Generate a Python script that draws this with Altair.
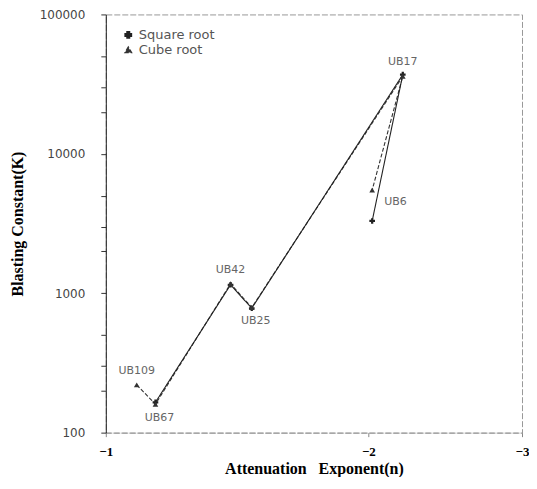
import altair as alt
import pandas as pd

labels = ["UB109", "UB67", "UB42", "UB25", "UB17", "UB6"]
seq = [1, 2, 3, 4, 5, 6]
label_pos = ["above", "below", "above", "below", "above", "right"]
sq_n = [None, -1.14, -1.39, -1.47, -2.19, -2.02]
sq_k = [None, 165, 1150, 780, 37000, 3300]
cube_n = [-1.085, -1.14, -1.39, -1.47, -2.19, -2.02]
cube_k = [220, 160, 1170, 790, 36000, 5500]
x_ticks = [-1, -2, -3]
y_ticks = [100, 200, 300, 500, 1000, 2000, 3000, 5000, 10000, 20000, 30000, 50000, 100000]

rows = []
for i, lab in enumerate(labels):
    if sq_n[i] is not None:
        rows.append({"series": "Square root", "n": sq_n[i], "k": sq_k[i], "label": lab, "seq": seq[i], "pos": label_pos[i]})
    rows.append({"series": "Cube root", "n": cube_n[i], "k": cube_k[i], "label": lab, "seq": seq[i], "pos": label_pos[i]})
df = pd.DataFrame(rows)

lab_df = df[df["series"] == "Cube root"]

xenc = alt.X("n:Q", scale=alt.Scale(type="log", domain=[-1, -3], nice=False),
             axis=alt.Axis(values=x_ticks, format="d", title="Attenuation\u00a0\u00a0\u00a0Exponent(n)",
                           titleFont="Liberation Serif", titleFontSize=16, titleFontWeight="bold",
                           labelFont="Liberation Serif", labelFontWeight="bold", labelFontSize=13,
                           labelColor="black", labelPadding=9, tickSize=4, tickColor="#888",
                           domainColor="#999", domainDash=[6, 2], grid=False, titlePadding=2,
                           labelFlush=False))
yenc = alt.Y("k:Q", scale=alt.Scale(type="log", domain=[100, 100000], nice=False),
             axis=alt.Axis(values=y_ticks, format="d",
                           labelExpr="indexof(['100','1000','10000','100000'], datum.label) >= 0 ? datum.label : ''",
                           title="Blasting Constant(K)",
                           titleFont="Liberation Serif", titleFontSize=16, titleFontWeight="bold",
                           labelFont="DejaVu Sans", labelFontSize=12, labelColor="#444",
                           labelPadding=16, tickSize=5, tickColor="#333", domainColor="#222",
                           grid=False, titlePadding=14))

col = alt.Color("series:N", scale=alt.Scale(domain=["Square root", "Cube root"], range=["#222", "#333"]),
                legend=alt.Legend(title=None, orient="none", legendX=16, legendY=14,
                                  labelFont="DejaVu Sans", labelFontSize=13, labelColor="#555",
                                  symbolSize=40, rowPadding=1))
shp = alt.Shape("series:N", scale=alt.Scale(domain=["Square root", "Cube root"], range=["cross", "triangle-up"]),
                legend=alt.Legend(title=None, orient="none", legendX=16, legendY=14,
                                  labelFont="DejaVu Sans", labelFontSize=13, labelColor="#555",
                                  symbolSize=40, rowPadding=1))
dash = alt.StrokeDash("series:N", scale=alt.Scale(domain=["Square root", "Cube root"], range=[[1, 0], [4, 2]]), legend=None)

base = alt.Chart(df)
lines = base.mark_line(strokeWidth=1.1).encode(x=xenc, y=yenc, color=col, strokeDash=dash, order="seq:Q", detail="series:N")
pts = base.mark_point(filled=True, size=32, opacity=1).encode(x=xenc, y=yenc, color=col, shape=shp)

tbase = alt.Chart(lab_df)
txt_style = dict(font="DejaVu Sans", fontSize=11, color="#666")
above = tbase.transform_filter("datum.pos == 'above'").mark_text(dy=-14, **txt_style).encode(x="n:Q", y="k:Q", text="label:N")
below = tbase.transform_filter("datum.pos == 'below'").mark_text(dy=14, dx=4, **txt_style).encode(x="n:Q", y="k:Q", text="label:N")
right = tbase.transform_filter("datum.pos == 'right'").mark_text(dx=12, dy=12, align="left", **txt_style).encode(x="n:Q", y="k:Q", text="label:N")

chart = alt.layer(lines, pts, above, below, right).properties(
    width=417, height=419, padding={"left": 1, "top": 0, "right": 0, "bottom": 0}
).configure_view(stroke="#999", strokeDash=[6, 2], strokeWidth=1)

chart.save("out.html", embed_options={"renderer": "svg", "actions": False})
